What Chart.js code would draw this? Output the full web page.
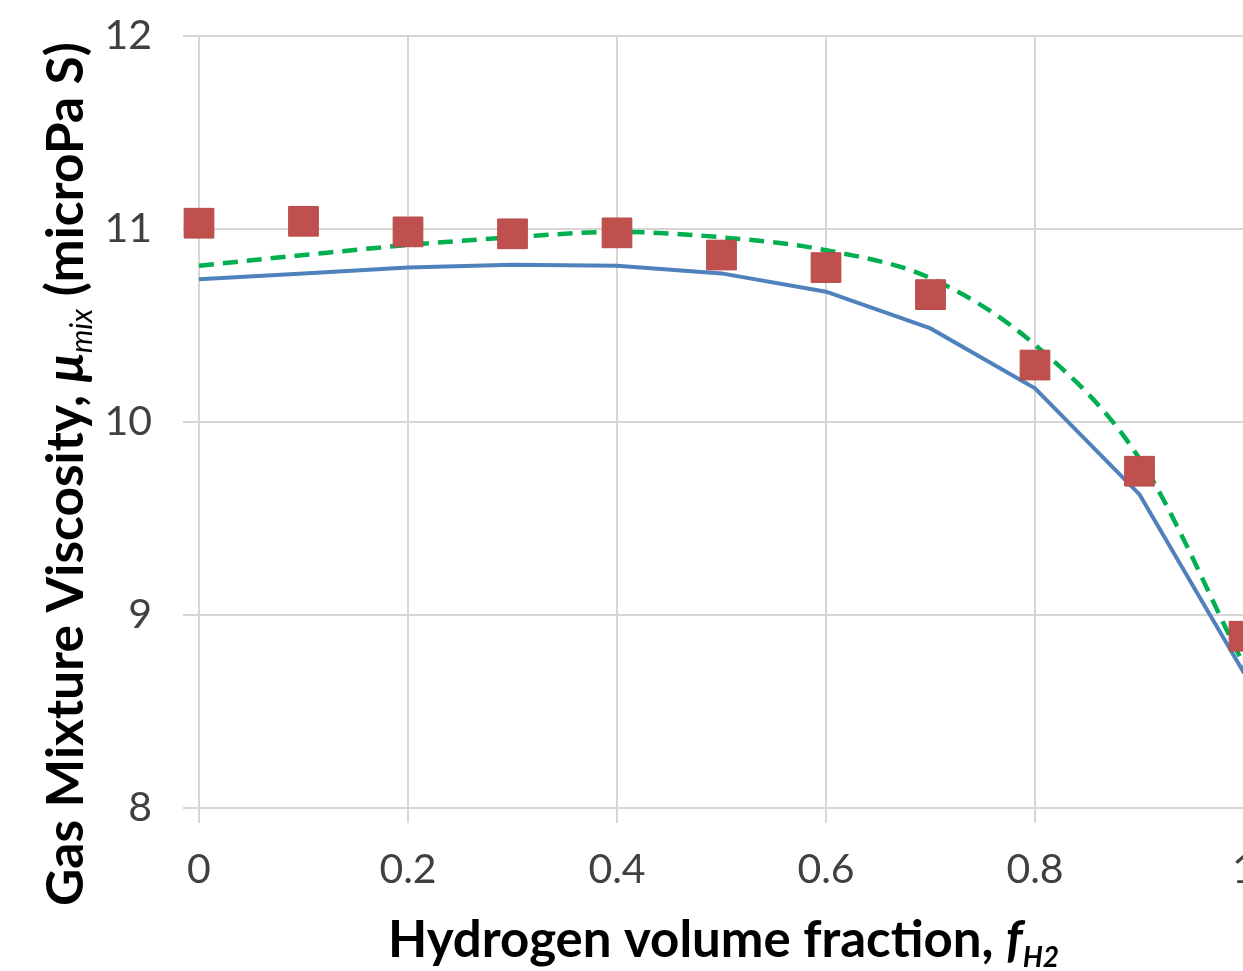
<!DOCTYPE html>
<html>
<head>
<meta charset="utf-8">
<script src="https://cdn.jsdelivr.net/npm/chart.js@4.4.1/dist/chart.umd.min.js"></script>
<style>
  html, body { margin: 0; padding: 0; background: #fff; overflow: hidden; }
</style>
</head>
<body>
<canvas id="chart" width="1300" height="971"></canvas>
<script>
// hydrogen volume fraction
const fractions = [0, 0.1, 0.2, 0.3, 0.4, 0.5, 0.6, 0.7, 0.8, 0.9, 1.0];
// measured viscosity (red squares)
const measured = [11.03, 11.04, 10.985, 10.975, 10.98, 10.865, 10.80, 10.66, 10.295, 9.745, 8.89];
// model 1 (solid blue)
const modelSolid = [10.74, 10.77, 10.80, 10.815, 10.81, 10.77, 10.675, 10.485, 10.175, 9.625, 8.70];
// model 2 (dashed green)
const modelDashed = [10.81, 10.865, 10.917, 10.957, 10.985, 10.957, 10.89, 10.745, 10.40, 9.81, 8.74];
const xTicks = [0, 0.2, 0.4, 0.6, 0.8, 1];
const yTicks = [8, 9, 10, 11, 12];

const toPoints = ys => fractions.map((x, i) => ({ x: x, y: ys[i] }));

const FONT = 'Lato';

// draw a title made of several text runs (bold / italic / subscript)
function drawRuns(ctx, runs, cx, cy) {
  let total = 0;
  runs.forEach(r => { ctx.font = r.font; r.w = ctx.measureText(r.text).width; total += r.w; });
  let x = cx - total / 2;
  runs.forEach(r => {
    ctx.font = r.font;
    ctx.fillText(r.text, x, cy + (r.dy || 0));
    x += r.w;
  });
}

const titlePlugin = {
  id: 'axisTitles',
  afterDraw(chart) {
    const ctx = chart.ctx;
    const a = chart.chartArea;
    ctx.save();
    ctx.fillStyle = '#000';
    ctx.textBaseline = 'alphabetic';
    ctx.textAlign = 'left';
    drawRuns(ctx, [
      { text: 'Hydrogen volume fraction, ', font: 'bold 51px ' + FONT },
      { text: 'f', font: 'italic bold 51px ' + FONT },
      { text: 'H2', font: 'italic bold 28px ' + FONT, dy: 10 }
    ], (a.left + a.right) / 2 + 2, 957);
    ctx.translate(83, 474);
    ctx.rotate(-Math.PI / 2);
    drawRuns(ctx, [
      { text: 'Gas Mixture Viscosity, ', font: 'bold 51.5px ' + FONT },
      { text: 'μ', font: 'italic bold 51.5px ' + FONT },
      { text: 'mix', font: 'italic 30px ' + FONT, dy: 9 },
      { text: ' (microPa S)', font: 'bold 51.5px ' + FONT }
    ], 0, 0);
    ctx.restore();
  }
};

const gridColor = '#d6d6d6';

new Chart(document.getElementById('chart'), {
  type: 'scatter',
  data: {
    datasets: [
      {
        label: 'Measured',
        data: toPoints(measured),
        pointStyle: 'rect',
        pointRadius: 21,
        pointBackgroundColor: '#c0504d',
        pointBorderColor: '#b64a47',
        pointBorderWidth: 1,
        showLine: false,
        clip: false,
        order: 0
      },
      {
        label: 'Model (dashed)',
        data: toPoints(modelDashed),
        showLine: true,
        borderColor: '#00b050',
        borderWidth: 4.5,
        borderDash: [15, 9],
        cubicInterpolationMode: 'monotone',
        pointRadius: 0,
        clip: false,
        order: 1
      },
      {
        label: 'Model (solid)',
        data: toPoints(modelSolid),
        showLine: true,
        borderColor: '#4f81bd',
        borderWidth: 4,
        tension: 0,
        pointRadius: 0,
        clip: false,
        order: 2
      }
    ]
  },
  options: {
    responsive: false,
    animation: false,
    layout: { padding: { left: 0, top: 36, right: 56, bottom: 0 } },
    plugins: {
      legend: { display: false },
      tooltip: { enabled: false }
    },
    scales: {
      x: {
        type: 'linear',
        min: 0,
        max: 1,
        afterBuildTicks: s => { s.ticks = xTicks.map(v => ({ value: v })); },
        afterFit: s => { s.height = 163; },
        grid: { color: gridColor, lineWidth: 2, tickLength: 15, drawTicks: true },
        border: { color: gridColor, width: 2 },
        ticks: {
          color: '#404040',
          font: { family: FONT, size: 41 },
          padding: 22,
          maxRotation: 0,
          callback: v => String(v)
        }
      },
      y: {
        min: 8,
        max: 12,
        afterBuildTicks: s => { s.ticks = yTicks.map(v => ({ value: v })); },
        afterFit: s => { s.width = 199; s.paddingTop = 0; s.paddingBottom = 0; },
        grid: { color: gridColor, lineWidth: 2, tickLength: 16, drawTicks: true },
        border: { color: gridColor, width: 2 },
        ticks: {
          color: '#404040',
          font: { family: FONT, size: 41 },
          padding: 31
        }
      }
    }
  },
  plugins: [titlePlugin]
});
</script>
</body>
</html>
